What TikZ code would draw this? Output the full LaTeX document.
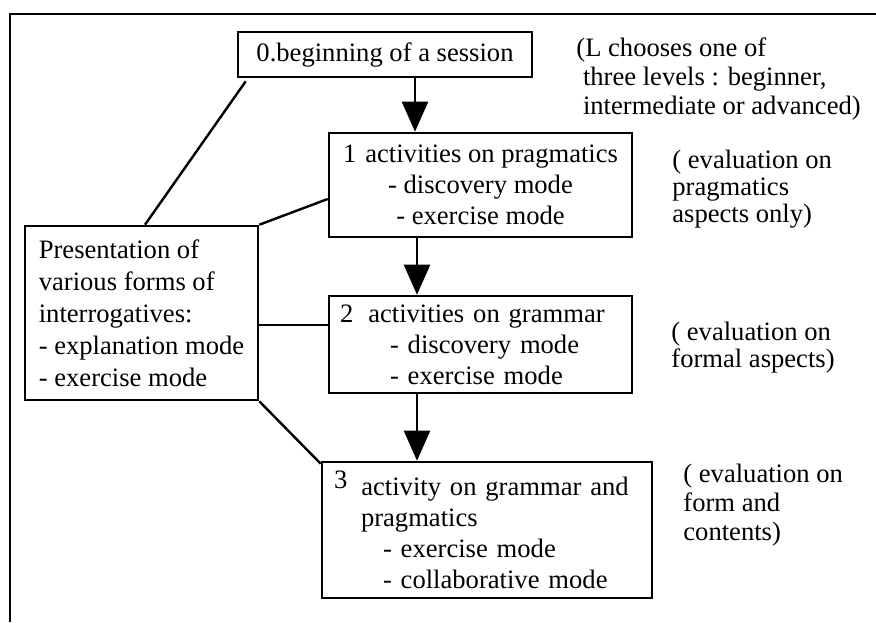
\documentclass[tikz,border=0pt]{standalone}
\usepackage{fontspec}
\setmainfont{Liberation Serif}
\usetikzlibrary{arrows.meta}
\begin{document}
\begin{tikzpicture}[x=0.5pt,y=-0.5pt,
  box/.style={draw,line width=1.3pt,inner sep=0pt,font=\fontsize{13.3}{15.5}\selectfont},
  note/.style={align=left,inner sep=0pt,anchor=north west},
  link/.style={line width=1.2pt},
  arr/.style={line width=1.2pt,-{Triangle[length=15pt,width=13pt]}}]
\useasboundingbox (0,0) rectangle (876,622);
\draw[line width=1pt] (10,622) -- (10,13.5) -- (876,13.5);
% boxes
\node[box,minimum width=147pt,minimum height=22.5pt] (b0) at (385,54.5) {0.beginning of a session};
\node[box,minimum width=151.5pt,minimum height=52pt,align=center] (b1) at (480.5,185)
  {1\hspace{4.5pt}activities on pragmatics\\- discovery mode\\- exercise mode};
\node[box,minimum height=48.5pt,inner xsep=5.5pt,text width=140.5pt,align=left] (b2) at (480.5,344.5)
  {2\hspace{7.5pt}activities on grammar\\\hspace*{25pt}- discovery mode\\\hspace*{25pt}- exercise mode};
\node[box,minimum height=68pt,inner xsep=6pt,text width=153pt,align=left] (b3) at (487,530)
  {\raisebox{3.5pt}{3}\hspace{7pt}activity on grammar and\\\hspace*{13.5pt}pragmatics\\\hspace*{24.5pt}- exercise mode\\\hspace*{24.5pt}- collaborative mode};
\node[box,minimum width=116.5pt,minimum height=87pt,align=left,font=\fontsize{13.3}{16}\selectfont] (pres) at (141.5,313)
  {Presentation of\\various forms of\\interrogatives:\\- explanation mode\\- exercise mode};
% notes
\node[note,font=\fontsize{13.3}{14.5}\selectfont] (n0) at (576,37.5)
  {(L chooses one of\\\hspace*{3.3pt}three levels : beginner,\\\hspace*{3.3pt}intermediate or advanced)};
\node[note,font=\fontsize{13.3}{13.5}\selectfont] (n1) at (672,149.5)
  {( evaluation on\\pragmatics\\aspects only)};
\node[note,font=\fontsize{13.3}{13.5}\selectfont] (n2) at (671,322)
  {( evaluation on\\formal aspects)};
\node[note,font=\fontsize{13.3}{14.5}\selectfont] (n3) at (683,463.5)
  {( evaluation on\\form and\\contents)};
% arrows
\draw[arr] ([xshift=15pt]b0.south) -- ([xshift=15pt]b0.south |- b1.north);
\draw[arr] (b1.south -| 417,0) -- (b2.north -| 417,0);
\draw[arr] (b2.south -| 417,0) -- (b3.north -| 417,0);
% links
\draw[link] ([shift={(4.5pt,-1.5pt)}]b0.south west) -- ([xshift=1.75pt]pres.north);
\draw[link] (pres.north east) -- ([yshift=-7pt]b1.west);
\draw[link] ([yshift=-6pt]pres.east) -- ([yshift=-6pt]pres.east -| b2.west);
\draw[link] (pres.south east) -- ([yshift=-1.5pt]b3.north west);
\end{tikzpicture}
\end{document}
